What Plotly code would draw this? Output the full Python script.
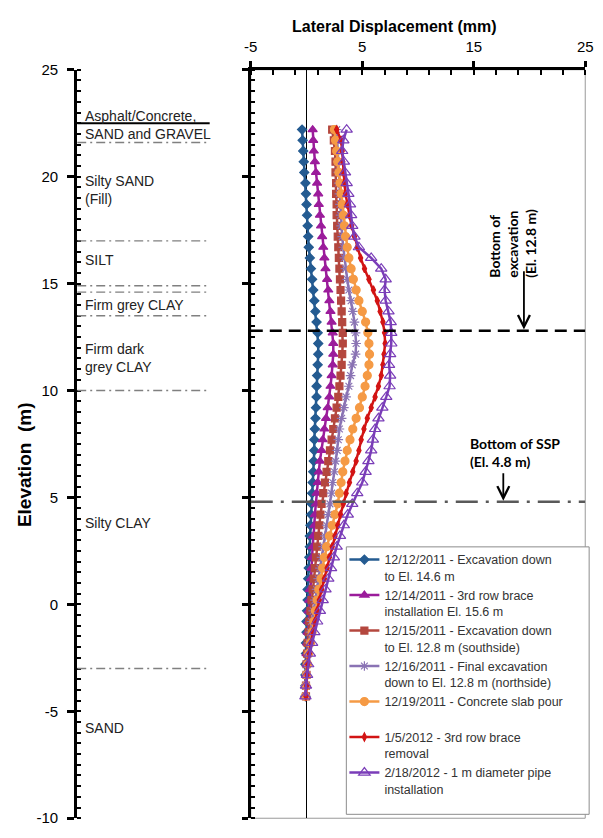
import plotly.graph_objects as go

# Inclinometer reading elevations (m)
elevation = [22.2, 21.7, 21.2, 20.7, 20.2, 19.7, 19.2, 18.7, 18.2, 17.7,
             17.2, 16.7, 16.2, 15.7, 15.2, 14.7, 14.2, 13.7, 13.2, 12.7,
             12.2, 11.7, 11.2, 10.7, 10.2, 9.7, 9.2, 8.7, 8.2, 7.7,
             7.2, 6.7, 6.2, 5.7, 5.2, 4.7, 4.2, 3.7, 3.2, 2.7,
             2.2, 1.7, 1.2, 0.7, 0.2, -0.3, -0.8, -1.3, -1.8, -2.3,
             -2.8, -3.3, -3.8, -4.3]

# Lateral displacement (mm) for each reading date
disp_2011_12_12 = [-0.4, -0.35, -0.3, -0.25, -0.2, -0.1, -0.05, 0.0, 0.05, 0.1,
                   0.15, 0.2, 0.3, 0.4, 0.5, 0.6, 0.7, 0.8, 0.9, 1.0,
                   1.05, 1.05, 1.0, 0.95, 0.9, 0.9, 0.85, 0.8, 0.75, 0.7,
                   0.7, 0.65, 0.6, 0.55, 0.5, 0.45, 0.4, 0.35, 0.3, 0.3,
                   0.25, 0.2, 0.15, 0.1, 0.1, 0.05, 0.0, 0.0, -0.05, -0.05,
                   -0.1, -0.1, -0.1, -0.1]
disp_2011_12_14 = [0.55, 0.6, 0.65, 0.75, 0.85, 0.95, 1.05, 1.1, 1.2, 1.3,
                   1.4, 1.5, 1.6, 1.7, 1.85, 1.95, 2.05, 2.15, 2.25, 2.35,
                   2.4, 2.4, 2.35, 2.25, 2.15, 2.05, 1.9, 1.75, 1.6, 1.45,
                   1.35, 1.2, 1.1, 1.0, 0.9, 0.85, 0.75, 0.7, 0.6, 0.55,
                   0.5, 0.45, 0.4, 0.3, 0.25, 0.2, 0.15, 0.1, 0.05, 0.0,
                   0.0, -0.05, -0.05, -0.05]
disp_2011_12_15 = [2.3, 2.45, 2.55, 2.6, 2.6, 2.65, 2.65, 2.7, 2.7, 2.75,
                   2.8, 2.85, 2.9, 2.95, 3.0, 3.05, 3.1, 3.15, 3.2, 3.25,
                   3.25, 3.2, 3.15, 3.05, 2.95, 2.85, 2.7, 2.55, 2.4, 2.25,
                   2.1, 1.95, 1.8, 1.65, 1.5, 1.35, 1.25, 1.15, 1.05, 0.95,
                   0.85, 0.75, 0.65, 0.55, 0.45, 0.35, 0.25, 0.2, 0.1, 0.05,
                   0.0, 0.0, -0.05, -0.05]
disp_2011_12_16 = [2.7, 2.75, 2.8, 2.8, 2.85, 2.9, 2.95, 3.0, 3.05, 3.1,
                   3.2, 3.3, 3.4, 3.5, 3.65, 3.8, 4.0, 4.15, 4.3, 4.4,
                   4.45, 4.4, 4.1, 3.95, 3.8, 3.55, 3.35, 3.15, 2.95, 2.85,
                   2.75, 2.6, 2.5, 2.35, 2.25, 2.1, 1.95, 1.8, 1.65, 1.5,
                   1.35, 1.2, 1.05, 0.9, 0.75, 0.6, 0.45, 0.35, 0.25, 0.15,
                   0.05, 0.0, -0.05, -0.1]
disp_2011_12_19 = [2.5, 2.6, 2.7, 2.8, 2.9, 3.0, 3.1, 3.2, 3.3, 3.4,
                   3.5, 3.65, 3.8, 4.0, 4.2, 4.45, 4.7, 5.0, 5.3, 5.5,
                   5.6, 5.65, 5.6, 5.45, 5.25, 5.0, 4.75, 4.45, 4.15, 3.9,
                   3.65, 3.45, 3.25, 3.1, 2.95, 2.8, 2.55, 2.3, 2.05, 1.8,
                   1.6, 1.45, 1.3, 1.1, 0.95, 0.8, 0.65, 0.5, 0.35, 0.2,
                   0.1, 0.0, -0.05, -0.1]
disp_2012_01_05 = [2.7, 3.1, 3.2, 3.25, 3.3, 3.4, 3.5, 3.65, 3.85, 4.05,
                   4.3, 4.55, 4.85, 5.2, 5.6, 6.0, 6.35, 6.6, 6.85, 7.0,
                   7.05, 6.95, 6.85, 6.7, 6.45, 6.15, 5.8, 5.45, 5.15, 4.9,
                   4.7, 4.45, 4.15, 3.85, 3.55, 3.3, 3.05, 2.8, 2.55, 2.3,
                   2.05, 1.85, 1.6, 1.35, 1.15, 0.95, 0.75, 0.55, 0.4, 0.25,
                   0.1, 0.05, 0.0, -0.05]
disp_2012_02_18 = [3.6, 3.3, 3.2, 3.35, 3.45, 3.6, 3.75, 3.9, 4.0, 4.1,
                   4.3, 4.7, 5.8, 6.7, 7.1, 7.0, 7.1, 7.35, 7.55, 7.6,
                   7.6, 7.5, 7.4, 7.5, 7.45, 7.15, 6.8, 6.45, 6.15, 5.95,
                   5.8, 5.55, 5.3, 5.0, 4.55, 4.1, 3.7, 3.35, 3.0, 2.7,
                   2.45, 2.2, 1.95, 1.7, 1.45, 1.2, 0.95, 0.7, 0.5, 0.3,
                   0.15, 0.05, -0.05, -0.1]

series_values = [disp_2011_12_12, disp_2011_12_14, disp_2011_12_15, disp_2011_12_16,
                 disp_2011_12_19, disp_2012_01_05, disp_2012_02_18]
series_names = [
    "12/12/2011 - Excavation down<br>to El. 14.6 m",
    "12/14/2011 - 3rd row brace<br>installation El. 15.6 m",
    "12/15/2011 - Excavation down<br>to El. 12.8 m (southside)",
    "12/16/2011 - Final excavation<br>down to El. 12.8 m (northside)",
    "12/19/2011 - Concrete slab pour<br>&nbsp;",
    "1/5/2012 - 3rd row brace<br>removal",
    "2/18/2012 - 1 m diameter pipe<br>installation",
]

# Soil stratigraphy
ground_surface = 22.5
soil_bounds = [21.6, 17.0, 14.9, 14.6, 13.5, 10.0, -3.0]
soil_labels = ["Asphalt/Concrete,<br>SAND and GRAVEL", "Silty SAND<br>(Fill)", "SILT",
               "Firm grey CLAY", "Firm dark<br>grey CLAY", "Silty CLAY", "SAND"]
soil_label_elev = [22.4, 19.4, 16.1, 14.0, 11.5, 3.8, -5.8]

# Reference elevations
excavation_el = 12.8
ssp_el = 4.8

# Axis ticks
y_tickvals = [-10, -5, 0, 5, 10, 15, 20, 25]
y_ticktext = ["-10", "-5", "0", "5", "10", "15", "20", "25"]
x_tickvals = [-5, 5, 15, 25]
x_ticktext = ["-5", "5", "15", "25"]

# Line / marker styles per series
styles = [
    dict(color="#245B91", symbol="diamond", size=7),
    dict(color="#9B1C9B", symbol="triangle-up", size=8),
    dict(color="#B4473E", symbol="square", size=7),
    dict(color="#8A73B4", symbol="asterisk-open", size=8),
    dict(color="#F59A45", symbol="circle", size=8),
    dict(color="#D21414", symbol="diamond-tall", size=6),
    dict(color="#7A3DB8", symbol="triangle-up-open", size=10),
]

W, H = 603, 838
FONT = "Arial, Liberation Sans, sans-serif"
y_dom = [1 - 826 / H, 1 - 62 / H]

fig = go.Figure()

for vals, name, st in zip(series_values, series_names, styles):
    fig.add_trace(go.Scatter(
        x=vals, y=elevation, name=name, mode="lines+markers",
        xaxis="x2", yaxis="y2",
        line=dict(color=st["color"], width=2.5),
        marker=dict(symbol=st["symbol"], size=st["size"], color=st["color"],
                    line=dict(color=st["color"], width=1.2)),
        legendgroup=name,
    ))

shapes = []
# soil layer boundaries
shapes.append(dict(type="line", xref="x", yref="y", x0=0, x1=1,
                   y0=ground_surface, y1=ground_surface,
                   line=dict(color="black", width=2)))
for b in soil_bounds:
    shapes.append(dict(type="line", xref="x", yref="y", x0=0, x1=1, y0=b, y1=b,
                       line=dict(color="#808080", width=1.4, dash="9px,4px,2px,4px")))
# plot frame (right & bottom)
shapes.append(dict(type="rect", xref="x2 domain", yref="y2 domain", x0=0, x1=1, y0=0, y1=1,
                   line=dict(color="#9a9a9a", width=1), layer="below"))
# bottom of excavation / bottom of sheet pile
shapes.append(dict(type="line", xref="x2", yref="y2", x0=-5, x1=25,
                   y0=excavation_el, y1=excavation_el,
                   line=dict(color="black", width=2.5, dash="12px,7px")))
shapes.append(dict(type="line", xref="x2", yref="y2", x0=-5, x1=25, y0=ssp_el, y1=ssp_el,
                   line=dict(color="#595959", width=2.5, dash="22px,8px,3px,8px")))
# legend frame
shapes.append(dict(type="rect", xref="paper", yref="paper",
                   x0=348 / W, x1=597 / W, y0=1 - 822 / H, y1=1 - 549 / H,
                   fillcolor="white", line=dict(color="#8c8c8c", width=1), layer="above"))

annotations = []
for txt, el in zip(soil_labels, soil_label_elev):
    annotations.append(dict(text=txt, x=0.045, y=el, xref="x", yref="y", xanchor="left",
                            yanchor="middle", align="left", showarrow=False,
                            font=dict(family=FONT, size=14, color="#222222")))
annotations.append(dict(text="<b>Elevation  (m)</b>", x=18 / W, y=1 - 465 / H, xref="paper",
                        yref="paper", xanchor="center", yanchor="middle",
                        textangle=-90, showarrow=False,
                        font=dict(family=FONT, size=19, color="black")))
annotations.append(dict(text="<b>Lateral Displacement (mm)</b>", x=397 / W, y=1 - 18 / H,
                        xref="paper", yref="paper", xanchor="center", yanchor="middle",
                        showarrow=False,
                        font=dict(family=FONT, size=16, color="black")))
annotations.append(dict(text="<b>Bottom of<br>excavation<br>(El. 12.8 m)</b>", x=18.5, y=16.9,
                        xref="x2", yref="y2", xanchor="center", yanchor="middle",
                        textangle=-90, align="left", showarrow=False,
                        font=dict(family="Lato, sans-serif", size=14, color="black")))
annotations.append(dict(text="", x=19.5, y=excavation_el + 0.05, ax=19.5, ay=15.65,
                        xref="x2", yref="y2", axref="x2", ayref="y2", showarrow=True,
                        arrowhead=5, arrowsize=1.3, arrowwidth=1.8, arrowcolor="black"))
annotations.append(dict(text="<b>Bottom of SSP<br>(El. 4.8 m)</b>", x=14.5, y=7.1,
                        xref="x2", yref="y2", xanchor="left", yanchor="middle",
                        align="left", showarrow=False,
                        font=dict(family="Lato, sans-serif", size=14, color="black")))
annotations.append(dict(text="", x=17.65, y=ssp_el + 0.05, ax=17.65, ay=6.2,
                        xref="x2", yref="y2", axref="x2", ayref="y2", showarrow=True,
                        arrowhead=5, arrowsize=1.3, arrowwidth=1.8, arrowcolor="black"))

tickfont = dict(family=FONT, size=15, color="black")

fig.update_layout(
    width=W, height=H, margin=dict(l=0, r=0, t=0, b=0),
    paper_bgcolor="white", plot_bgcolor="white",
    showlegend=True,
    xaxis=dict(domain=[72 / W, 208 / W], range=[0, 1], visible=False, anchor="y"),
    yaxis=dict(domain=y_dom, range=[-10, 25], anchor="x",
               tickvals=y_tickvals, ticktext=y_ticktext, tickfont=tickfont,
               showline=True, linecolor="black", linewidth=3,
               ticks="outside", ticklen=7, tickwidth=3, tickcolor="black",
               ticklabelstandoff=6,
               minor=dict(tick0=0, dtick=0.5, ticks="inside", ticklen=4, tickwidth=2,
                          tickcolor="black"),
               showgrid=False, zeroline=False),
    xaxis2=dict(domain=[250 / W, 593 / W], range=[-5, 25], anchor="y2", side="top",
                tickvals=x_tickvals, ticktext=x_ticktext, tickfont=tickfont,
                showline=True, linecolor="black", linewidth=3,
                ticks="outside", ticklen=6, tickwidth=3, tickcolor="black",
                ticklabelstandoff=3,
                minor=dict(tick0=-5, dtick=2, ticks="inside", ticklen=5, tickwidth=2,
                           tickcolor="black"),
                showgrid=False, zeroline=True, zerolinecolor="black", zerolinewidth=1),
    yaxis2=dict(domain=y_dom, range=[-10, 25], anchor="x2",
                tickvals=y_tickvals, showticklabels=False,
                showline=True, linecolor="black", linewidth=3,
                ticks="outside", ticklen=6, tickwidth=3, tickcolor="black",
                minor=dict(tick0=0, dtick=0.5, ticks="inside", ticklen=4, tickwidth=2,
                           tickcolor="black"),
                showgrid=False, zeroline=False),
    legend=dict(x=346 / W, y=1 - 547 / H, xanchor="left", yanchor="top",
                bgcolor="rgba(0,0,0,0)", borderwidth=0,
                font=dict(family=FONT, size=12.5, color="#333333"),
                traceorder="grouped", tracegroupgap=0, valign="top",
                itemwidth=30),
    shapes=shapes,
    annotations=annotations,
)

fig.write_html("out.html")
